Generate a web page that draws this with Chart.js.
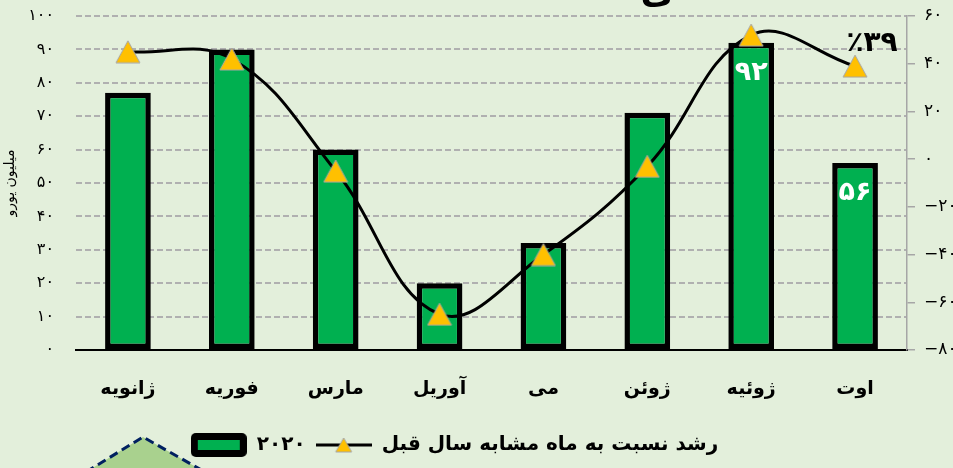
<!DOCTYPE html>
<html lang="fa">
<head>
<meta charset="utf-8">
<title>فروش ماهانه ۲۰۲۰</title>
<script src="https://cdn.jsdelivr.net/npm/chart.js@4.4.1/dist/chart.umd.min.js"></script>
<style>
  html, body { margin: 0; padding: 0; background: #E3EFDB; overflow: hidden; }
  #wrap { width: 953px; height: 468px; position: relative; }
</style>
</head>
<body>
<div id="wrap"><canvas id="chart"></canvas></div>
<script>
// داده‌ها
const months = ['ژانویه', 'فوریه', 'مارس', 'آوریل', 'می', 'ژوئن', 'ژوئیه', 'اوت'];
const sales2020 = [77, 90, 60, 20, 32, 71, 92, 56];      // میلیون یورو
const growth = [45, 42, -5, -65, -40, -3, 52, 39];       // درصد رشد
const leftTicks = [0, 10, 20, 30, 40, 50, 60, 70, 80, 90, 100];
const rightTicks = [-80, -60, -40, -20, 0, 20, 40, 60];
const barLabelIdx = [6, 7];
const growthLabelIdx = [7];

const faDigits = '۰۱۲۳۴۵۶۷۸۹';
const toFa = n => String(n).replace(/\d/g, d => faDigits[d]).replace('-', '−');

const FONT = '"DejaVu Sans", sans-serif';
Chart.defaults.font.family = FONT;
Chart.defaults.color = '#000';

// آیکن مثلث زرد
function makeTriangle(w, h) {
  const c = document.createElement('canvas');
  c.width = w; c.height = h;
  const g = c.getContext('2d');
  g.beginPath();
  g.moveTo(w / 2, 1); g.lineTo(w - 1, h - 1); g.lineTo(1, h - 1); g.closePath();
  g.fillStyle = '#FFC000'; g.fill();
  g.strokeStyle = '#A6A6A6'; g.lineWidth = 1; g.stroke();
  return c;
}
const triangle = makeTriangle(26, 24);

// آیکن‌های راهنما
const barIcon = (() => {
  const c = document.createElement('canvas');
  c.width = 56; c.height = 24;
  const g = c.getContext('2d');
  g.fillStyle = '#000';
  g.beginPath(); g.roundRect(0, 0, 56, 24, 5); g.fill();
  g.fillStyle = '#00B050';
  g.fillRect(7, 7, 42, 10);
  return c;
})();
const lineIcon = (() => {
  const c = document.createElement('canvas');
  c.width = 56; c.height = 18;
  const g = c.getContext('2d');
  g.strokeStyle = '#000'; g.lineWidth = 3;
  g.beginPath(); g.moveTo(0, 9); g.lineTo(56, 9); g.stroke();
  g.drawImage(makeTriangle(18, 16), 19, 1);
  return c;
})();

// برچسب مقادیر
const valueLabels = {
  id: 'valueLabels',
  afterDatasetsDraw(chart) {
    const ctx = chart.ctx;
    ctx.save();
    ctx.textAlign = 'center';
    ctx.textBaseline = 'middle';
    ctx.fillStyle = '#fff';
    ctx.font = 'bold 27px ' + FONT;
    const bars = chart.getDatasetMeta(0).data;
    barLabelIdx.forEach(i => ctx.fillText(toFa(sales2020[i]), bars[i].x, bars[i].y + 30));
    ctx.fillStyle = '#000';
    ctx.font = 'bold 28px ' + FONT;
    const pts = chart.getDatasetMeta(1).data;
    growthLabelIdx.forEach(i => ctx.fillText('٪' + toFa(growth[i]), pts[i].x + 17, pts[i].y - 22));
    ctx.restore();
  }
};

// شکل تزئینی پایین، تکه عنوان بریده‌شده، جابجایی راهنما
const decor = {
  id: 'decor',
  afterLayout(chart) {
    chart.legend.left -= 22;
    chart.legend.right -= 22;
  },
  beforeDraw(chart) {
    const ctx = chart.ctx;
    ctx.save();
    ctx.beginPath();
    ctx.moveTo(86, 472); ctx.lineTo(143, 437); ctx.lineTo(205, 472);
    ctx.fillStyle = '#A9D18E';
    ctx.fill();
    ctx.setLineDash([9, 5]);
    ctx.strokeStyle = '#002060';
    ctx.lineWidth = 3;
    ctx.stroke();
    ctx.setLineDash([]);
    ctx.fillStyle = '#000';
    ctx.font = 'bold 36px ' + FONT;
    ctx.textAlign = 'center';
    ctx.textBaseline = 'alphabetic';
    ctx.fillText('ی', 657, 3);
    ctx.restore();
  }
};

new Chart(document.getElementById('chart'), {
  data: {
    labels: months,
    datasets: [
      {
        type: 'bar',
        label: '۲۰۲۰',
        data: sales2020,
        yAxisID: 'y',
        backgroundColor: '#00B050',
        borderColor: '#000',
        borderWidth: 5.5,
        borderSkipped: false,
        barPercentage: 0.44,
        categoryPercentage: 1,
        order: 1
      },
      {
        type: 'line',
        label: 'رشد نسبت به ماه مشابه سال قبل',
        data: growth,
        yAxisID: 'y1',
        borderColor: '#000',
        borderWidth: 3,
        tension: 0.4,
        pointStyle: triangle,
        pointRadius: 12,
        order: 0
      }
    ]
  },
  options: {
    responsive: true,
    maintainAspectRatio: false,
    animation: false,
    devicePixelRatio: 1,
    layout: { autoPadding: false, padding: { top: 16, bottom: 3, left: 0, right: 0 } },
    plugins: {
      tooltip: { enabled: false },
      legend: {
        position: 'bottom',
        labels: {
          usePointStyle: true,
          pointStyleWidth: 56,
          padding: 10,
          font: { size: 20, weight: 'bold' },
          color: '#000',
          sort: (a, b) => a.datasetIndex - b.datasetIndex,
          generateLabels(chart) {
            const items = Chart.defaults.plugins.legend.labels.generateLabels(chart);
            items.forEach(it => { it.pointStyle = it.datasetIndex === 0 ? barIcon : lineIcon; });
            return items;
          }
        }
      }
    },
    scales: {
      x: {
        grid: { display: false, drawTicks: false },
        border: { color: '#000', width: 2 },
        ticks: { padding: 28, font: { size: 19, weight: 'bold' }, color: '#000' },
        afterFit: s => { s.height = 75; }
      },
      y: {
        position: 'left',
        min: leftTicks[0],
        max: leftTicks[leftTicks.length - 1],
        ticks: {
          stepSize: leftTicks[1] - leftTicks[0],
          padding: 0,
          font: { size: 16 },
          color: '#000',
          callback: v => toFa(v)
        },
        grid: {
          drawTicks: true,
          tickLength: 22,
          tickColor: 'rgba(0,0,0,0)',
          lineWidth: 2,
          color: c => (c.tick && c.tick.value === 0 ? 'rgba(0,0,0,0)' : '#B0B0B0')
        },
        border: { display: false, dash: [6, 3] },
        title: { display: true, text: 'میلیون یورو', font: { size: 14 }, color: '#000', padding: { top: 2, bottom: 2 } },
        afterFit: s => { s.width = 76; }
      },
      y1: {
        position: 'right',
        min: rightTicks[0],
        max: rightTicks[rightTicks.length - 1],
        ticks: {
          stepSize: rightTicks[1] - rightTicks[0],
          padding: 9,
          font: { size: 17, lineHeight: 0.8 },
          color: '#000',
          callback: v => toFa(v)
        },
        grid: { drawOnChartArea: false, tickLength: 8, color: '#A6A6A6', lineWidth: 1.5 },
        border: { color: '#A6A6A6', width: 1.5 },
        afterFit: s => { s.width = 46; }
      }
    }
  },
  plugins: [decor, valueLabels]
});
</script>
</body>
</html>
